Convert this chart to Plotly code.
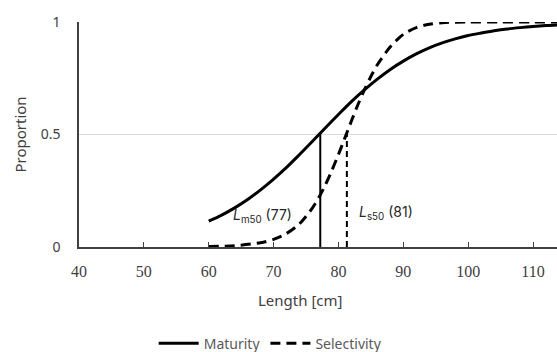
import plotly.graph_objects as go

# Data
length_m = [60, 62, 64, 66, 68, 70, 72, 74, 76, 78, 80, 82, 84, 86, 88, 90, 92, 94, 96, 98, 100, 102, 104, 106, 108, 110, 112, 114]
maturity = [0.115, 0.142, 0.174, 0.211, 0.254, 0.302, 0.354, 0.411, 0.470, 0.530, 0.589, 0.646, 0.698, 0.746, 0.789, 0.826, 0.858, 0.885, 0.907, 0.925, 0.94, 0.951, 0.961, 0.969, 0.975, 0.98, 0.984, 0.987]

length_s = [60, 64, 68, 70, 72, 74, 76, 77, 78, 79, 80, 81, 82, 83, 84, 85, 86, 88, 90, 92, 94, 96, 100, 105, 110, 114]
selectivity = [0.002, 0.006, 0.019, 0.034, 0.06, 0.103, 0.174, 0.221, 0.277, 0.341, 0.411, 0.485, 0.56, 0.632, 0.698, 0.758, 0.81, 0.89, 0.945, 0.975, 0.99, 0.997, 1.0, 1.0, 1.0, 1.0]

lm50 = 77.2
ls50 = 81.3

x_ticks = [40, 50, 60, 70, 80, 90, 100, 110]
y_ticks = [0, 0.5, 1]
y_tick_text = ["0", "0.5", "1"]

fig = go.Figure()
fig.add_trace(go.Scatter(x=length_m, y=maturity, mode="lines", name="Maturity",
                         line=dict(color="black", width=3, shape="spline", smoothing=0.8)))
fig.add_trace(go.Scatter(x=length_s, y=selectivity, mode="lines", name="Selectivity",
                         line=dict(color="black", width=3, dash="10px,6px", shape="spline", smoothing=0.8)))
fig.add_trace(go.Scatter(x=[lm50, lm50], y=[0, 0.5], mode="lines", showlegend=False,
                         line=dict(color="black", width=2)))
fig.add_trace(go.Scatter(x=[ls50, ls50], y=[0, 0.5], mode="lines", showlegend=False,
                         line=dict(color="black", width=2, dash="6px,4px")))

fig.add_annotation(x=68.3, y=0.14, xref="x", yref="y", showarrow=False,
                   text="<i>L</i><sub>m50</sub> (77)",
                   font=dict(family="Inter, Noto Sans, sans-serif", size=14, color="#262626"))
fig.add_annotation(x=87.3, y=0.155, xref="x", yref="y", showarrow=False,
                   text="<i>L</i><sub>s50</sub> (81)",
                   font=dict(family="Inter, Noto Sans, sans-serif", size=14, color="#262626"))
fig.add_annotation(x=0.464, y=-0.236, xref="paper", yref="paper", showarrow=False,
                   text="Length [cm]", yanchor="middle",
                   font=dict(family="Noto Sans, sans-serif", size=15, color="#404040"))

fig.update_layout(
    width=557, height=352,
    margin=dict(l=79, r=0, t=22, b=105, autoexpand=False),
    plot_bgcolor="white", paper_bgcolor="white",
    showlegend=True,
    legend=dict(orientation="h", x=0.40, xanchor="center", y=-0.43, yanchor="middle",
                font=dict(family="Noto Sans, sans-serif", size=14, color="#595959"),
                itemwidth=40, tracegroupgap=0),
    xaxis=dict(range=[40, 113.7], tickvals=x_ticks, ticks="inside", ticklen=5,
               tickcolor="#404040", showline=True, linecolor="#404040", linewidth=1.5,
               showgrid=False, zeroline=False, ticklabelstandoff=9, automargin=False,
               tickfont=dict(family="Liberation Serif", size=16, color="#404040")),
    yaxis=dict(range=[0, 1], tickvals=y_ticks, ticktext=y_tick_text, ticks="",
               showline=True, linecolor="#404040", linewidth=1.5, ticklabelstandoff=14,
               showgrid=True, gridcolor="#d9d9d9", gridwidth=1, zeroline=False, automargin=False,
               tickfont=dict(family="Noto Sans, sans-serif", size=14, color="#404040"),
               title=dict(text="Proportion", standoff=10,
                          font=dict(family="Noto Sans, sans-serif", size=15, color="#404040"))),
)

fig.write_html("out.html")
